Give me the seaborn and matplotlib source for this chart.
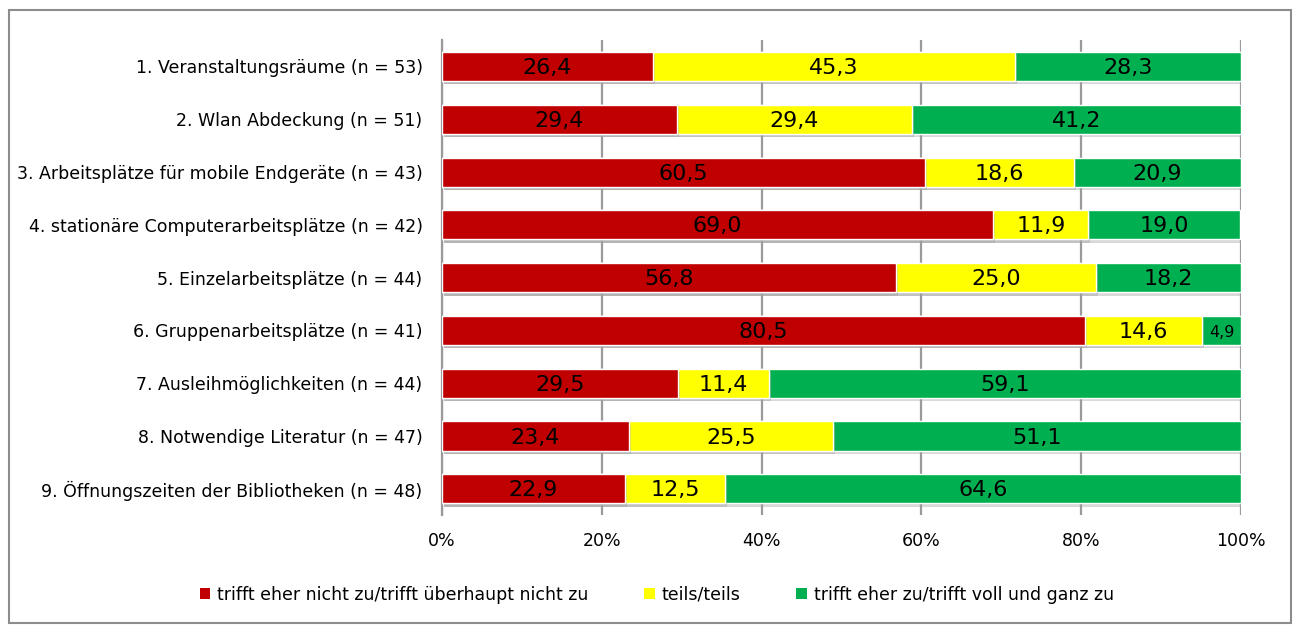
import matplotlib
matplotlib.use("Agg")
import matplotlib.pyplot as plt
import matplotlib.patheffects as pe
from matplotlib.patches import Rectangle, Patch
import seaborn as sns
import pandas as pd

categories = [
    "1. Veranstaltungsräume (n = 53)",
    "2. Wlan Abdeckung (n = 51)",
    "3. Arbeitsplätze für mobile Endgeräte (n = 43)",
    "4. stationäre Computerarbeitsplätze (n = 42)",
    "5. Einzelarbeitsplätze (n = 44)",
    "6. Gruppenarbeitsplätze (n = 41)",
    "7. Ausleihmöglichkeiten (n = 44)",
    "8. Notwendige Literatur (n = 47)",
    "9. Öffnungszeiten der Bibliotheken (n = 48)",
]
nicht_zu = [26.4, 29.4, 60.5, 69.0, 56.8, 80.5, 29.5, 23.4, 22.9]
teils = [45.3, 29.4, 18.6, 11.9, 25.0, 14.6, 11.4, 25.5, 12.5]
zu = [28.3, 41.2, 20.9, 19.0, 18.2, 4.9, 59.1, 51.1, 64.6]
series_names = [
    "trifft eher nicht zu/trifft überhaupt nicht zu",
    "teils/teils",
    "trifft eher zu/trifft voll und ganz zu",
]
colors = ["#C00000", "#FFFF00", "#00B050"]
tick_labels = ["0%", "20%", "40%", "60%", "80%", "100%"]

sns.set_theme(style="white")
plt.rcParams["font.family"] = ["DejaVu Sans"]
plt.rcParams["text.color"] = "black"
plt.rcParams["xtick.color"] = "black"
plt.rcParams["ytick.color"] = "black"

df = pd.DataFrame({"cat": categories, "a": nicht_zu, "b": teils, "c": zu})
df["cum_a"] = df["a"]
df["cum_b"] = df["a"] + df["b"]
df["cum_c"] = df["a"] + df["b"] + df["c"]

fig = plt.figure(figsize=(12.93, 6.26), dpi=100)
ax = fig.add_axes([0.3418, 0.177, 0.618, 0.759])

shadow = [pe.SimplePatchShadow(offset=(1.5, -2.5), shadow_rgbFace="#a0a0a0", alpha=0.4), pe.Normal()]

# stacked bars drawn as cumulative totals, widest first
for col, color in [("cum_c", colors[2]), ("cum_b", colors[1]), ("cum_a", colors[0])]:
    sns.barplot(data=df, y="cat", x=col, orient="h", color=color, saturation=1,
                width=0.55, edgecolor="white", linewidth=1.0, ax=ax, zorder=3)

for p in ax.patches:
    p.set_path_effects(shadow)

# value labels centred in each segment
for i in range(len(categories)):
    starts = [0, nicht_zu[i], nicht_zu[i] + teils[i]]
    vals = [nicht_zu[i], teils[i], zu[i]]
    for s, v in zip(starts, vals):
        fs = 11.5 if v < 8 else 16
        ax.text(s + v / 2, i + 0.03, f"{v:.1f}".replace(".", ","), ha="center",
                va="center", fontsize=fs, color="black", zorder=5)

ax.set_xlim(0, 100)
ax.set_ylim(len(categories) - 0.5, -0.5)
ax.set_xticks([0, 20, 40, 60, 80, 100])
ax.set_xticklabels(tick_labels, fontsize=12.5)
ax.tick_params(axis="x", length=0, pad=12)
ax.tick_params(axis="y", length=0, pad=14, labelsize=12.5)
ax.set_xlabel("")
ax.set_ylabel("")
ax.xaxis.grid(True, color="#9a9a9a", linewidth=1.6, zorder=0)
ax.set_axisbelow(True)
for side in ["top", "right", "bottom"]:
    ax.spines[side].set_visible(False)
ax.spines["left"].set_color("#9a9a9a")
ax.spines["left"].set_linewidth(1.6)

handles = [Patch(facecolor=c, edgecolor="none") for c in colors]
fig.legend(handles, series_names, loc="center", bbox_to_anchor=(0.508, 0.05), ncol=3,
           frameon=False, fontsize=12.5, handlelength=0.6, handleheight=0.6,
           handletextpad=0.4, columnspacing=3.2)

fig.patches.append(Rectangle((9 / 1293, 3 / 626), 1282 / 1293, 613 / 626,
                             transform=fig.transFigure, fill=False,
                             edgecolor="#8c8c8c", linewidth=1.5))

fig.savefig("out.png", dpi=100, facecolor="white")
